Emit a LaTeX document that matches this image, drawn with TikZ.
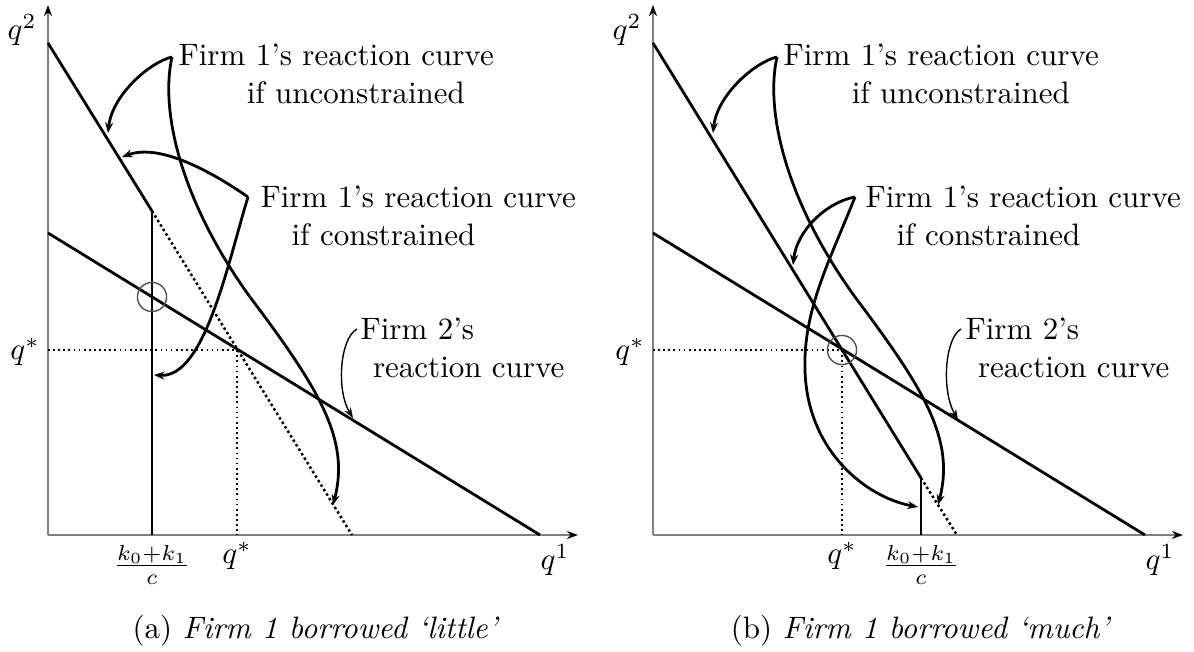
\documentclass[tikz,border=0pt]{standalone}
\usepackage{tikz}
\usetikzlibrary{arrows.meta}
\definecolor{axgray}{HTML}{808080}
\definecolor{ringgray}{HTML}{505050}
\tikzset{
  axis/.style={draw=axgray,line width=.55pt,-{Stealth[length=3.6pt,width=2.6pt,color=black]}},
  rc/.style={line width=.9pt},
  rcdot/.style={line width=.8pt,dash pattern=on .8pt off .9pt},
  kline/.style={line width=.45pt},
  qdot/.style={line width=.55pt,dash pattern=on .55pt off 1.1pt},
  ring/.style={draw=ringgray,line width=.45pt},
  ptr/.style={line width=.9pt,-{Stealth[length=3.4pt,width=2.6pt]}},
  thinptr/.style={line width=.45pt,-{Stealth[length=3.4pt,width=2.4pt]}},
  lbl/.style={inner sep=0pt,align=left,anchor=base west},
  tick/.style={inner sep=0pt},
  captxt/.style={inner sep=0pt,anchor=base}
}

\begin{document}
\begin{tikzpicture}[x=0.32258pt,y={(0,-0.32258pt)}]
\useasboundingbox (0,0) rectangle (1194,652);

% (a) Firm 1 borrowed little
\coordinate (oa) at (48,535);
\coordinate (ya) at (48,5);
\coordinate (xa) at (578,535);
\coordinate (f1a) at (48,43);
\coordinate (kinka) at (152,211);
\coordinate (f1enda) at (352,535);
\coordinate (kfoota) at (152,535);
\coordinate (f2a) at (48,233);
\coordinate (f2enda) at (540,535);
\coordinate (qya) at (48,350);
\coordinate (qxa) at (237,535);
\draw[axis] (oa) -- (ya);
\draw[axis] (oa) -- (xa);
\draw[rc] (f1a) -- (kinka);
\draw[rcdot] (kinka) -- (f1enda);
\draw[kline] (kinka) -- (kfoota);
\draw[rc] (f2a) -- (f2enda);
\draw[qdot] (qya) -| (qxa);
\draw[ring] (152,297) circle[radius=4.7pt];

\node[tick] (q2a) at (22,30) {$q^2$};
\node[tick] (qsa) at (25,352) {$q^*$};
\node[tick] (q1a) at (555,560) {$q^1$};
\node[tick] (ka) at (152,565) {$\frac{k_0+k_1}{c}$};
\node[tick] (qsba) at (237,556) {$q^*$};
% base of a two-line label = baseline of its last line
\node[lbl] (ua) at (178,103) {Firm 1's reaction curve\\\hspace*{22pt}if unconstrained};
\node[lbl] (ca) at (260,245) {Firm 1's reaction curve\\\quad if constrained};
\node[lbl] (fa) at (360,377) {Firm 2's\\\hspace*{4pt}reaction curve};
\node[captxt] (capa) at (316,638) {(a) \textit{Firm 1 borrowed `little'}};

\coordinate (uas) at (172,57);
\coordinate (uat1) at (108,133);
\coordinate (uat2) at (333,505);
\coordinate (cas) at (248,197);
\coordinate (cat1) at (122,157);
\coordinate (cat2) at (154,375);
\coordinate (fas) at (357,329);
\coordinate (fat) at (353,418);
\draw[ptr] (uas) .. controls (150,62) and (112,95) .. (uat1);
\draw[ptr] (uas) .. controls (160,110) and (180,200) .. (250,297)
  .. controls (320,390) and (350,440) .. (uat2);
\draw[ptr] (cas) .. controls (212,172) and (160,143) .. (cat1);
\draw[ptr] (cas) .. controls (228,262) and (205,378) .. (cat2);
\draw[thinptr] (fas) .. controls (340,338) and (336,390) .. (fat);

% (b) Firm 1 borrowed much
\begin{scope}[shift={(605,0)}]
\coordinate (ob) at (48,535);
\coordinate (yb) at (48,5);
\coordinate (xb) at (578,535);
\coordinate (f1b) at (48,43);
\coordinate (kinkb) at (316,478);
\coordinate (f1endb) at (352,535);
\coordinate (kfootb) at (316,535);
\coordinate (f2b) at (48,233);
\coordinate (f2endb) at (540,535);
\coordinate (qyb) at (48,350);
\coordinate (qxb) at (237,535);
\draw[axis] (ob) -- (yb);
\draw[axis] (ob) -- (xb);
\draw[rc] (f1b) -- (kinkb);
\draw[rcdot] (kinkb) -- (f1endb);
\draw[rc] (kinkb) -- (kfootb);
\draw[rc] (f2b) -- (f2endb);
\draw[qdot] (qyb) -| (qxb);
\draw[ring] (237,350) circle[radius=4.7pt];

\node[tick] (q2b) at (22,30) {$q^2$};
\node[tick] (qsb) at (25,352) {$q^*$};
\node[tick] (q1b) at (555,560) {$q^1$};
\node[tick] (kb) at (316,565) {$\frac{k_0+k_1}{c}$};
\node[tick] (qsbb) at (237,556) {$q^*$};
\node[lbl] (ub) at (178,103) {Firm 1's reaction curve\\\hspace*{22pt}if unconstrained};
\node[lbl] (cb) at (260,245) {Firm 1's reaction curve\\\quad if constrained};
\node[lbl] (fb) at (360,377) {Firm 2's\\\hspace*{4pt}reaction curve};
\node[captxt] (capb) at (316,638) {(b) \textit{Firm 1 borrowed `much'}};

\coordinate (ubs) at (172,57);
\coordinate (ubt1) at (108,133);
\coordinate (ubt2) at (333,505);
\coordinate (cbs) at (250,197);
\coordinate (cbt1) at (188,265);
\coordinate (cbt2) at (313,507);
\coordinate (fbs) at (356,329);
\coordinate (fbt) at (353,420);
\draw[ptr] (ubs) .. controls (150,62) and (112,95) .. (ubt1);
\draw[ptr] (ubs) .. controls (160,110) and (180,200) .. (250,297)
  .. controls (320,390) and (350,440) .. (ubt2);
\draw[ptr] (cbs) .. controls (222,202) and (192,230) .. (cbt1);
\draw[ptr] (cbs) .. controls (225,260) and (198,310) .. (200,370)
  .. controls (202,450) and (260,497) .. (cbt2);
\draw[thinptr] (fbs) .. controls (340,338) and (336,390) .. (fbt);
\end{scope}
\end{tikzpicture}
\end{document}
